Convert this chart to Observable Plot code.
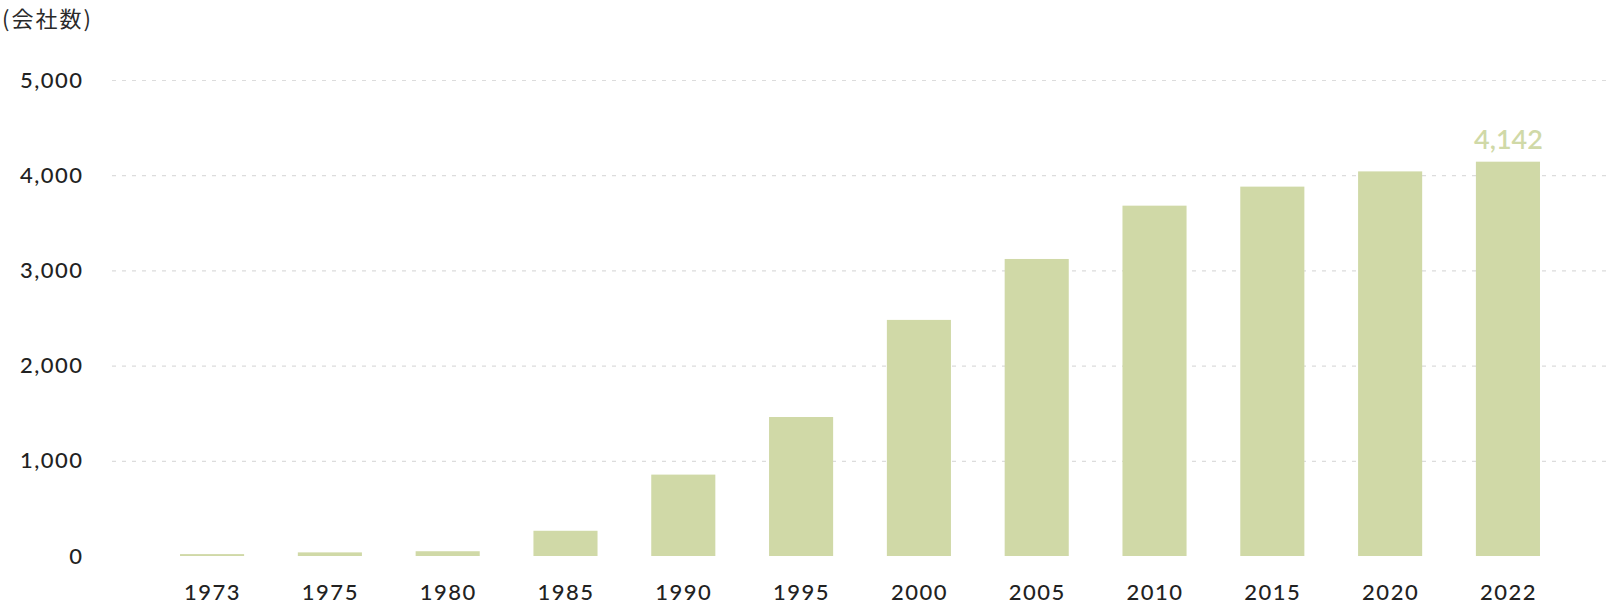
<!DOCTYPE html>
<html>
<head>
<meta charset="utf-8">
<script src="https://cdn.jsdelivr.net/npm/d3@7"></script>
<script src="https://cdn.jsdelivr.net/npm/@observablehq/plot@0.6"></script>
<style>
  html, body { margin: 0; padding: 0; background: #fff; }
  #title { height: 30px; font-family: "Noto Sans CJK JP", "Noto Sans", sans-serif; font-size: 22px; letter-spacing: 2px; color: #2a2a2a; padding-left: 2px; line-height: 34px; }
  #chart svg { display: block; }
</style>
</head>
<body>
<div id="title">(会社数)</div>
<div id="chart"></div>
<script>
const years = ["1973","1975","1980","1985","1990","1995","2000","2005","2010","2015","2020","2022"];
const companies = [20, 38, 50, 265, 855, 1460, 2480, 3120, 3680, 3880, 4040, 4142];
const yTicks = [0, 1000, 2000, 3000, 4000, 5000];
const gridTicks = [1000, 2000, 3000, 4000, 5000];
const highlightYear = "2022";

const data = years.map((y, i) => ({year: y, value: companies[i]}));
const fmt = d3.format(",");
const barColor = "#d0d9a7";
const font = "Lato, 'Noto Sans', sans-serif";

const chart = Plot.plot({
  width: 1608,
  height: 574,
  marginTop: 50,
  marginBottom: 48,
  marginLeft: 112,
  marginRight: 0,
  style: {fontFamily: font, background: "#fff"},
  x: {domain: years, range: [126.3, 1593.7], padding: 0.456, round: false, label: null},
  y: {domain: [0, 5000], label: null},
  marks: [
    Plot.ruleY(gridTicks, {stroke: "#dcdcdc", strokeDasharray: "4,6", strokeWidth: 1.2}),
    Plot.barY(data, {x: "year", y: "value", fill: barColor}),
    Plot.text(data.filter(d => d.year === highlightYear), {
      x: "year", y: "value", text: d => fmt(d.value), dy: -22,
      fill: barColor, fontSize: 27, fontWeight: 600
    }),
    Plot.axisY({ticks: yTicks, tickSize: 0, tickPadding: 29, tickFormat: fmt, fontSize: 22, fill: "#222", fontWeight: 500, label: null}),
    Plot.axisX({tickSize: 0, tickPadding: 28, fontSize: 22, fill: "#222", fontWeight: 500, label: null})
  ]
});
d3.select(chart).selectAll("g[aria-label='x-axis tick label'] text, g[aria-label='y-axis tick label'] text")
  .style("letter-spacing", "1.5px");
document.getElementById("chart").appendChild(chart);
</script>
</body>
</html>
